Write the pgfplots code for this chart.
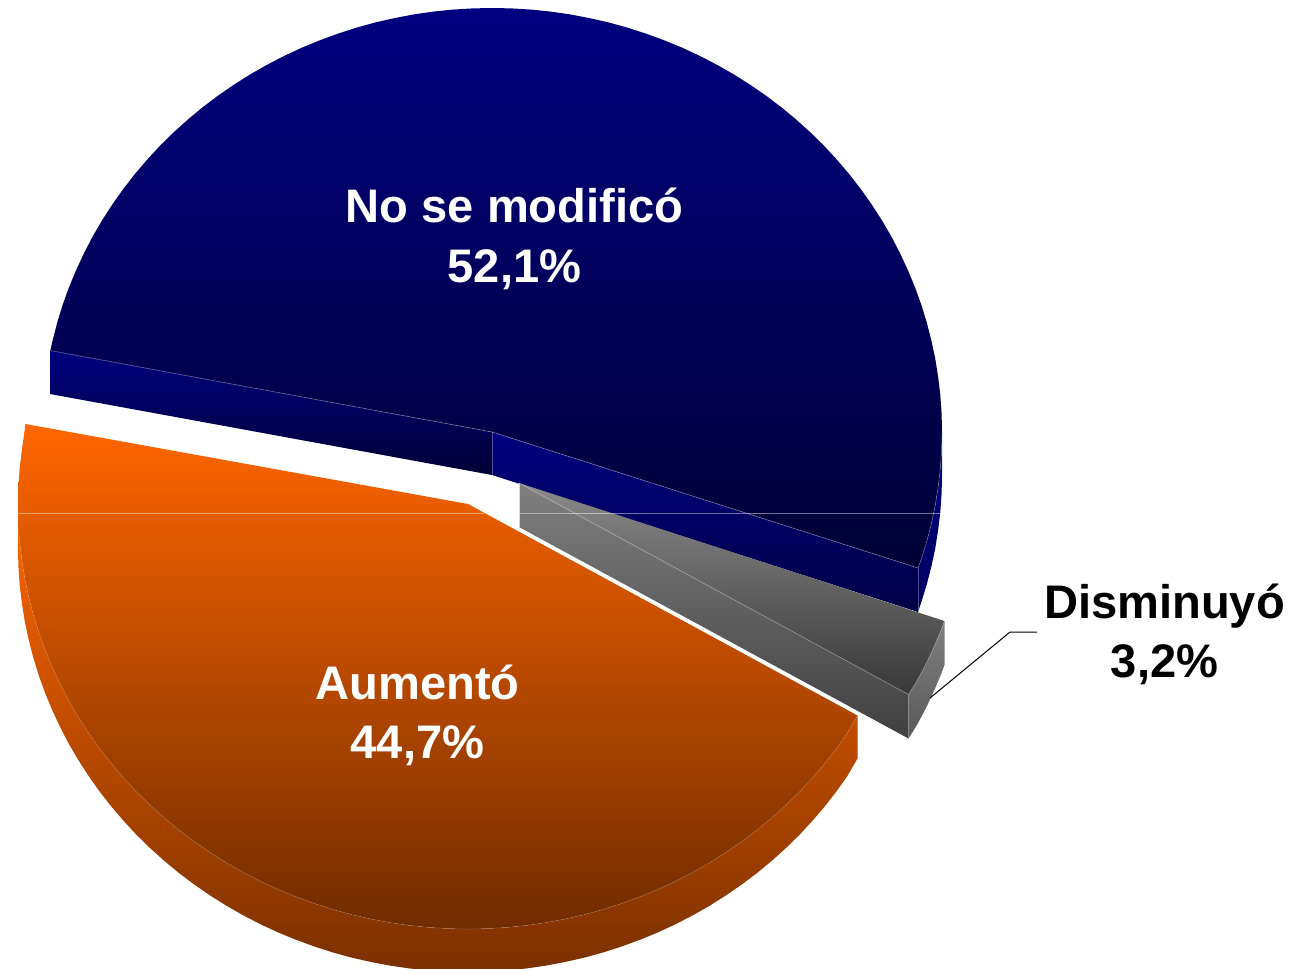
\documentclass[border=0pt]{standalone}
\usepackage{pgfplots}
\usepackage{fontspec}
\setmainfont{Liberation Sans}
\pgfplotsset{compat=1.18}
\definecolor{bluetop}{HTML}{000080}
\definecolor{bluebot}{HTML}{000036}
\definecolor{ortop}{HTML}{FF6600}
\definecolor{ormid}{HTML}{C44F00}
\definecolor{orbot}{HTML}{702C00}
\definecolor{orwall}{HTML}{7A3000}
\tikzset{lab/.style={align=center, inner sep=0pt, font=\fontsize{47.1}{59.5}\selectfont\bfseries}}
\begin{document}
\begin{tikzpicture}
\useasboundingbox (0,0) rectangle (1296pt,969pt);
\begin{axis}[
  at={(0,0)}, anchor=south west,
  scale only axis, width=1296pt, height=969pt,
  xmin=0, xmax=1296, ymin=0, ymax=969, y dir=reverse,
  hide axis, clip=true, no markers,
  every axis plot/.append style={forget plot, line join=round},
]
% blue outer wall
\addplot[draw=none, top color=bluetop, bottom color=bluetop!75!black] coordinates {
(942,432)(941.6,450.5)(940.3,469)(938.1,487.3)(935.2,505.6)(931.3,523.8)(926.7,541.7)(921.2,559.5)(918,568)(918,612)(921.2,602.5)(926.7,584.7)(931.3,566.8)(935.2,548.6)(938.1,530.3)(940.3,512)(941.6,493.5)(942,475)};
% blue cut faces
\addplot[draw=none, top color=bluetop, bottom color=bluebot] coordinates {
(50,350)(492,432)(492,475)(50,394)};
\addplot[draw=none, top color=bluetop, bottom color=bluetop!55!black] coordinates {
(492,432)(918,568)(918,612)(492,475)};
% blue top
\addplot[draw=none, top color=bluetop, bottom color=bluebot] coordinates {
(50.3,350.5)(52.7,340.2)(57.3,322.3)(62.8,304.5)(69.1,287)(76.3,269.7)(84.2,252.8)(92.8,236.2)(102.3,220)(112.5,204.2)(123.4,188.8)(135,173.9)(147.3,159.5)(160.2,145.5)(173.8,132.2)(188,119.4)(202.7,107.2)(218.1,95.6)(233.9,84.7)(250.2,74.4)(267,64.8)(284.2,55.9)(301.8,47.7)(319.8,40.3)(338.1,33.6)(356.7,27.6)(375.5,22.4)(394.6,18.1)(413.9,14.4)(433.3,11.6)(452.8,9.6)(472.4,8.4)(492,8)(511.6,8.4)(531.2,9.6)(550.7,11.6)(570.1,14.4)(589.4,18.1)(608.5,22.4)(627.3,27.6)(645.9,33.6)(664.2,40.3)(682.2,47.7)(699.8,55.9)(717,64.8)(733.8,74.4)(750.1,84.7)(765.9,95.6)(781.3,107.2)(796,119.4)(810.2,132.2)(823.8,145.5)(836.7,159.5)(849,173.9)(860.6,188.8)(871.5,204.2)(881.7,220)(891.2,236.2)(899.8,252.8)(907.7,269.7)(914.9,287)(921.2,304.5)(926.7,322.3)(931.3,340.2)(935.2,358.4)(938.1,376.7)(940.3,395)(941.6,413.5)(942,432)(941.6,450.5)(940.3,469)(938.1,487.3)(935.2,505.6)(931.3,523.8)(926.7,541.7)(921.2,559.5)(918,568)(492,432)};
% orange wall
\addplot[draw=none, top color=ortop, bottom color=orwall] coordinates {
(18,505)(18.4,523.5)(19.7,542)(21.9,560.3)(24.8,578.6)(28.7,596.8)(33.3,614.7)(38.8,632.5)(45.1,650)(52.3,667.3)(60.2,684.2)(68.8,700.8)(78.3,717)(88.5,732.8)(99.4,748.2)(111,763.1)(123.3,777.5)(136.2,791.5)(149.8,804.8)(164,817.6)(178.7,829.8)(194.1,841.4)(209.9,852.3)(226.2,862.6)(243,872.2)(260.2,881.1)(277.8,889.3)(295.8,896.7)(314.1,903.4)(332.7,909.4)(351.5,914.6)(370.6,918.9)(389.9,922.6)(409.3,925.4)(428.8,927.4)(448.4,928.6)(468,929)(487.6,928.6)(507.2,927.4)(526.7,925.4)(546.1,922.6)(565.4,918.9)(584.5,914.6)(603.3,909.4)(621.9,903.4)(640.2,896.7)(658.2,889.3)(675.8,881.1)(693,872.2)(709.8,862.6)(726.1,852.3)(741.9,841.4)(757.3,829.8)(772,817.6)(786.2,804.8)(799.8,791.5)(812.7,777.5)(825,763.1)(836.6,748.2)(847.5,732.8)(857.5,715.5)
(857.5,758.5)(847.5,775.8)(836.6,791.2)(825,806.1)(812.7,820.5)(799.8,834.5)(786.2,847.8)(772,860.6)(757.3,872.8)(741.9,884.4)(726.1,895.3)(709.8,905.6)(693,915.2)(675.8,924.1)(658.2,932.3)(640.2,939.7)(621.9,946.4)(603.3,952.4)(584.5,957.6)(565.4,961.9)(546.1,965.6)(526.7,968.4)(507.2,970.4)(487.6,971.6)(468,972)(448.4,971.6)(428.8,970.4)(409.3,968.4)(389.9,965.6)(370.6,961.9)(351.5,957.6)(332.7,952.4)(314.1,946.4)(295.8,939.7)(277.8,932.3)(260.2,924.1)(243,915.2)(226.2,905.6)(209.9,895.3)(194.1,884.4)(178.7,872.8)(164,860.6)(149.8,847.8)(136.2,834.5)(123.3,820.5)(111,806.1)(99.4,791.2)(88.5,775.8)(78.3,760)(68.8,743.8)(60.2,727.2)(52.3,710.3)(45.1,693)(38.8,675.5)(33.3,657.7)(28.7,639.8)(24.8,621.6)(21.9,603.3)(19.7,585)(18.4,566.5)(18,548)};
% orange top
\addplot[draw=none, top color=ortop, middle color=ormid, bottom color=orbot] coordinates {
(25.5,424)(21.9,449.7)(19.7,468)(18.4,486.5)(18,505)(18.4,523.5)(19.7,542)(21.9,560.3)(24.8,578.6)(28.7,596.8)(33.3,614.7)(38.8,632.5)(45.1,650)(52.3,667.3)(60.2,684.2)(68.8,700.8)(78.3,717)(88.5,732.8)(99.4,748.2)(111,763.1)(123.3,777.5)(136.2,791.5)(149.8,804.8)(164,817.6)(178.7,829.8)(194.1,841.4)(209.9,852.3)(226.2,862.6)(243,872.2)(260.2,881.1)(277.8,889.3)(295.8,896.7)(314.1,903.4)(332.7,909.4)(351.5,914.6)(370.6,918.9)(389.9,922.6)(409.3,925.4)(428.8,927.4)(448.4,928.6)(468,929)(487.6,928.6)(507.2,927.4)(526.7,925.4)(546.1,922.6)(565.4,918.9)(584.5,914.6)(603.3,909.4)(621.9,903.4)(640.2,896.7)(658.2,889.3)(675.8,881.1)(693,872.2)(709.8,862.6)(726.1,852.3)(741.9,841.4)(757.3,829.8)(772,817.6)(786.2,804.8)(799.8,791.5)(812.7,777.5)(825,763.1)(836.6,748.2)(847.5,732.8)(857.5,715.5)(468,504)};
% gray faces
\addplot[draw=none, top color=black!50, bottom color=black!75] coordinates {
(519,483)(908.5,694.5)(908.5,738.5)(519,527)};
\addplot[draw=none, top color=black!50, bottom color=black!65] coordinates {
(944.5,621)(940.5,631.5)(936.2,641.8)(931.7,652)(926.8,662.2)(921.7,672.2)(916.3,682)(908.5,694.5)(908.5,738.5)(916.3,726)(921.7,716.2)(926.8,706.2)(931.7,696)(936.2,685.8)(940.5,675.5)(944.5,665)};
\addplot[draw=none, top color=black!46, bottom color=black!78] coordinates {
(519,483)(944.5,621)(940.5,631.5)(936.2,641.8)(931.7,652)(926.8,662.2)(921.7,672.2)(916.3,682)(908.5,694.5)};
% thin light edges
\addplot[white, opacity=.3, line width=.8pt] coordinates {(50,350.5)(492,432)(918,568)};
\addplot[white, opacity=.3, line width=.8pt] coordinates {(492,432)(492,475)};
\addplot[white, opacity=.3, line width=.8pt] coordinates {(918,568)(918,612)};
\addplot[white, opacity=.25, line width=.8pt] coordinates {(519,483)(908.5,694.5)(908.5,738.5)};
\addplot[white, opacity=.7, line width=.8pt] coordinates {(519,483)(519,527)};
\addplot[white, opacity=.25, line width=.8pt] coordinates {(944.5,621)(940.5,631.5)(936.2,641.8)(931.7,652)(926.8,662.2)(921.7,672.2)(916.3,682)(908.5,694.5)};
\addplot[white, opacity=.25, line width=.8pt] coordinates {(942,432)(941.6,450.5)(940.3,469)(938.1,487.3)(935.2,505.6)(931.3,523.8)(926.7,541.7)(921.2,559.5)(918,568)};
\addplot[white, opacity=.12, line width=.8pt] coordinates {(19.7,542)(21.9,560.3)(24.8,578.6)(28.7,596.8)(33.3,614.7)(38.8,632.5)(45.1,650)(52.3,667.3)(60.2,684.2)(68.8,700.8)(78.3,717)(88.5,732.8)(99.4,748.2)(111,763.1)(123.3,777.5)(136.2,791.5)(149.8,804.8)(164,817.6)(178.7,829.8)(194.1,841.4)(209.9,852.3)(226.2,862.6)(243,872.2)(260.2,881.1)(277.8,889.3)(295.8,896.7)(314.1,903.4)(332.7,909.4)(351.5,914.6)(370.6,918.9)(389.9,922.6)(409.3,925.4)(428.8,927.4)(448.4,928.6)(468,929)(487.6,928.6)(507.2,927.4)(526.7,925.4)(546.1,922.6)(565.4,918.9)(584.5,914.6)(603.3,909.4)(621.9,903.4)(640.2,896.7)(658.2,889.3)(675.8,881.1)(693,872.2)(709.8,862.6)(726.1,852.3)(741.9,841.4)(757.3,829.8)(772,817.6)(786.2,804.8)(799.8,791.5)(812.7,777.5)(825,763.1)(836.6,748.2)(847.5,732.8)(857.5,715.5)};
% seam lines of the gradient
\addplot[white, opacity=.45, line width=.8pt] coordinates {(17,513)(484,513)};
\addplot[white, opacity=.45, line width=.8pt] coordinates {(519,513)(940,513)};
% leader
\addplot[black, line width=1pt] coordinates {(930,698)(1010,632)(1037,632)};
\node[white, lab] at (axis cs:514.5,239) {No se modificó\\52,1\%};
\node[white, lab] at (axis cs:417.5,715.5) {Aumentó\\44,7\%};
\node[black, lab] at (axis cs:1164.5,634.5) {Disminuyó\\3,2\%};
\end{axis}
\end{tikzpicture}
\end{document}
